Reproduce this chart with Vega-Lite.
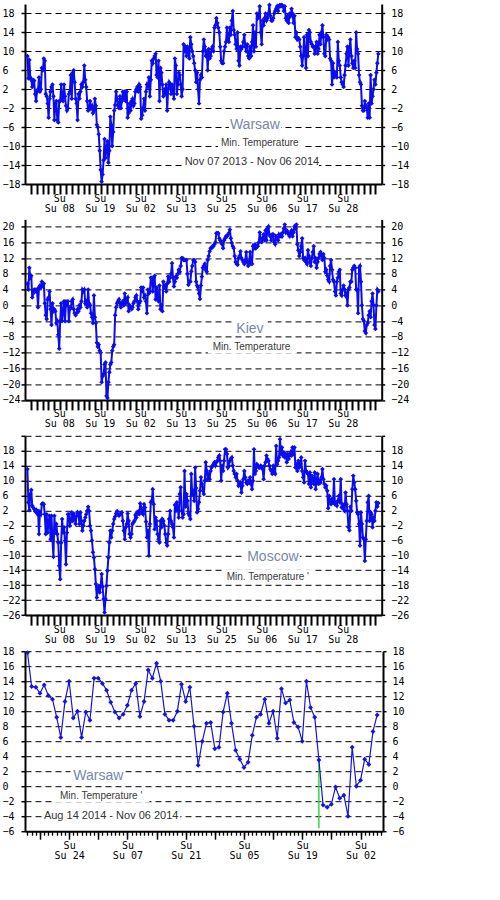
{
"$schema": "https://vega.github.io/schema/vega-lite/v6.json",
"background": "white",
"padding": {"left": 2, "top": 0, "right": 2, "bottom": 2},
"config": {
 "view": {"stroke": null},
 "axis": {"labelFont": "DejaVu Sans Mono", "labelFontSize": 10, "labelColor": "#000000", "domainColor": "#000000", "domainWidth": 2, "tickColor": "#000000", "labelOverlap": false, "labelFlush": false, "labelBound": false, "grid": false}
},
"datasets": {
"year": [
{"d":0,"wa":9,"ki":5.5,"mo":13.1},{"d":1,"wa":4.3,"ki":4,"mo":4.2},{"d":2,"wa":8.2,"ki":9.5,"mo":2.1},{"d":3,"wa":4.5,"ki":7,"mo":6.4},{"d":4,"wa":4,"ki":7.5,"mo":7.5},{"d":5,"wa":2.5,"ki":2,"mo":3.3},{"d":6,"wa":4,"ki":3,"mo":2.8},
{"d":7,"wa":3.8,"ki":4,"mo":2.4},{"d":8,"wa":1,"ki":4,"mo":1.8},{"d":9,"wa":-0.5,"ki":3.5,"mo":2.2},{"d":10,"wa":1.5,"ki":4,"mo":1.2},{"d":11,"wa":2,"ki":-0.5,"mo":1.9},{"d":12,"wa":4.5,"ki":4.5,"mo":-4.3},{"d":13,"wa":1.5,"ki":5,"mo":1.5},
{"d":14,"wa":2,"ki":4.5,"mo":1.0},{"d":15,"wa":6.5,"ki":6,"mo":3.7},{"d":16,"wa":6,"ki":5,"mo":3.9},{"d":17,"wa":8.5,"ki":5.5,"mo":3.7},{"d":18,"wa":8,"ki":0.5,"mo":1.0},{"d":19,"wa":1,"ki":-2.5,"mo":-4.3},{"d":20,"wa":0.5,"ki":-3.5,"mo":1.0},
{"d":21,"wa":-1,"ki":1.5,"mo":-3.9},{"d":22,"wa":-4,"ki":2,"mo":-1.0},{"d":23,"wa":0,"ki":3.5,"mo":0.6},{"d":24,"wa":1.5,"ki":-1,"mo":-5.7},{"d":25,"wa":2.5,"ki":-5,"mo":0.6},{"d":26,"wa":3,"ki":0.5,"mo":-6.1},{"d":27,"wa":0.5,"ki":-1.5,"mo":-10.4},
{"d":28,"wa":-4.5,"ki":-1,"mo":0.6},{"d":29,"wa":-1,"ki":-1.5,"mo":-3.9},{"d":30,"wa":-0.5,"ki":-4.5,"mo":-1.6},{"d":31,"wa":-4.5,"ki":-4,"mo":-4.3},{"d":32,"wa":-5,"ki":-7.5,"mo":-6.6},{"d":33,"wa":-0.5,"ki":-11,"mo":-12.8},{"d":34,"wa":-0.5,"ki":-4,"mo":-16.4},
{"d":35,"wa":3,"ki":0.5,"mo":-6.6},{"d":36,"wa":0,"ki":-4,"mo":-0.3},{"d":37,"wa":-0.5,"ki":-1.5,"mo":-3.9},{"d":38,"wa":3,"ki":1,"mo":-2.5},{"d":39,"wa":0.5,"ki":-4,"mo":-6.1},{"d":40,"wa":-1.5,"ki":1,"mo":-12.4},{"d":41,"wa":-2.5,"ki":0,"mo":-3.9},
{"d":42,"wa":-2,"ki":1,"mo":1.0},{"d":43,"wa":1,"ki":-4,"mo":1.0},{"d":44,"wa":1.5,"ki":-1,"mo":-2.1},{"d":45,"wa":5,"ki":-0.5,"mo":-0.8},{"d":46,"wa":0,"ki":1,"mo":1.5},{"d":47,"wa":5.5,"ki":1.5,"mo":-0.8},{"d":48,"wa":6,"ki":-1,"mo":1.2},
{"d":49,"wa":3.5,"ki":-2,"mo":0.1},{"d":50,"wa":0,"ki":-2.5,"mo":-1.6},{"d":51,"wa":-1,"ki":-2,"mo":0.6},{"d":52,"wa":-4.5,"ki":-1,"mo":1.5},{"d":53,"wa":1,"ki":-1.5,"mo":0.8},{"d":54,"wa":0,"ki":0,"mo":-1.6},{"d":55,"wa":1.5,"ki":-0.5,"mo":1.5},
{"d":56,"wa":3,"ki":1,"mo":-0.8},{"d":57,"wa":2.5,"ki":4,"mo":-3.4},{"d":58,"wa":3.5,"ki":3.5,"mo":-2.1},{"d":59,"wa":7,"ki":4,"mo":-0.8},{"d":60,"wa":4,"ki":0.5,"mo":0.1},{"d":61,"wa":2.5,"ki":1,"mo":1.0},{"d":62,"wa":-0.5,"ki":-0.5,"mo":1.9},
{"d":63,"wa":-2.5,"ki":4,"mo":3.0},{"d":64,"wa":-2,"ki":0.5,"mo":1.9},{"d":65,"wa":-0.5,"ki":0,"mo":-2.1},{"d":66,"wa":-2,"ki":-2,"mo":-3.4},{"d":67,"wa":-1.5,"ki":-3,"mo":-6.0},{"d":68,"wa":-3,"ki":-4.5,"mo":-9.2},{"d":69,"wa":-2.5,"ki":2.5,"mo":-10.6},
{"d":70,"wa":0,"ki":-3,"mo":-13.7},{"d":71,"wa":-1.5,"ki":-4.5,"mo":-17.7},{"d":72,"wa":-5.5,"ki":-9.5,"mo":-21.3},{"d":73,"wa":-6,"ki":-10.5,"mo":-19.1},{"d":74,"wa":-7.5,"ki":-10,"mo":-18.2},{"d":75,"wa":-11,"ki":-11.5,"mo":-19.9},{"d":76,"wa":-15,"ki":-12,"mo":-18.2},
{"d":77,"wa":-17.5,"ki":-19.5,"mo":-15.0},{"d":78,"wa":-16,"ki":-18,"mo":-18.4},{"d":79,"wa":-13,"ki":-17.5,"mo":-21.7},{"d":80,"wa":-8.5,"ki":-15,"mo":-25.3},{"d":81,"wa":-12.5,"ki":-14.5,"mo":-21.7},{"d":82,"wa":-10.5,"ki":-23,"mo":-18.2},{"d":83,"wa":-9,"ki":-23.5,"mo":-14.1},
{"d":84,"wa":-13.5,"ki":-19.5,"mo":-10.6},{"d":85,"wa":-11,"ki":-17,"mo":-6.6},{"d":86,"wa":-3.8,"ki":-15,"mo":-3.4},{"d":87,"wa":-5.5,"ki":-14.5,"mo":-5.2},{"d":88,"wa":-10,"ki":-11.5,"mo":-3.4},{"d":89,"wa":-7,"ki":-10.5,"mo":-1.6},{"d":90,"wa":-2.5,"ki":-10,"mo":-0.3},
{"d":91,"wa":-1.3,"ki":-2.5,"mo":0.4},{"d":92,"wa":1.5,"ki":-0.5,"mo":1.2},{"d":93,"wa":0,"ki":0.5,"mo":1.8},{"d":94,"wa":-1.5,"ki":1,"mo":1.0},{"d":95,"wa":-2,"ki":1.5,"mo":0.6},{"d":96,"wa":0.5,"ki":0.5,"mo":1.0},{"d":97,"wa":-2,"ki":-0.5,"mo":1.2},
{"d":98,"wa":-0.5,"ki":0.5,"mo":1.5},{"d":99,"wa":1.5,"ki":1,"mo":-0.8},{"d":100,"wa":0,"ki":0,"mo":-3.4},{"d":101,"wa":1.5,"ki":3,"mo":-5.7},{"d":102,"wa":-0.5,"ki":0.5,"mo":-2.5},{"d":103,"wa":1.5,"ki":1.5,"mo":-1.6},{"d":104,"wa":-4,"ki":2,"mo":1.2},
{"d":105,"wa":-3,"ki":-1.5,"mo":-0.8},{"d":106,"wa":-1,"ki":0,"mo":-4.3},{"d":107,"wa":-2.5,"ki":-0.5,"mo":-5.2},{"d":108,"wa":-0.5,"ki":-1,"mo":-4.3},{"d":109,"wa":0,"ki":-0.5,"mo":-1.6},{"d":110,"wa":-1.5,"ki":0.5,"mo":-1.2},{"d":111,"wa":-1,"ki":1,"mo":-0.8},
{"d":112,"wa":1.5,"ki":2,"mo":0.8},{"d":113,"wa":2,"ki":2.5,"mo":0.1},{"d":114,"wa":2.5,"ki":1,"mo":1.5},{"d":115,"wa":1.5,"ki":-1,"mo":1.8},{"d":116,"wa":3,"ki":0.5,"mo":1.0},{"d":117,"wa":2.5,"ki":1,"mo":3.9},{"d":118,"wa":-4.2,"ki":4.5,"mo":2.8},
{"d":119,"wa":-3.5,"ki":3.5,"mo":1.5},{"d":120,"wa":-2,"ki":4.5,"mo":1.0},{"d":121,"wa":0,"ki":2,"mo":3.7},{"d":122,"wa":-2.5,"ki":2.5,"mo":2.8},{"d":123,"wa":1.5,"ki":1,"mo":-1.0},{"d":124,"wa":3,"ki":-2,"mo":-5.2},{"d":125,"wa":2.5,"ki":4,"mo":-3.4},
{"d":126,"wa":4.5,"ki":3,"mo":-10.1},{"d":127,"wa":0.5,"ki":3.5,"mo":-1.6},{"d":128,"wa":4,"ki":7,"mo":4.2},{"d":129,"wa":8,"ki":7,"mo":4.6},{"d":130,"wa":7.5,"ki":3.5,"mo":7.7},{"d":131,"wa":8.5,"ki":7,"mo":3.7},{"d":132,"wa":9,"ki":7.5,"mo":-3.0},
{"d":133,"wa":9.5,"ki":1.5,"mo":0.1},{"d":134,"wa":5,"ki":4.5,"mo":-0.8},{"d":135,"wa":4.5,"ki":2,"mo":-4.3},{"d":136,"wa":8,"ki":1,"mo":-5.7},{"d":137,"wa":-0.5,"ki":5,"mo":-6.6},{"d":138,"wa":6.5,"ki":-1,"mo":-0.8},{"d":139,"wa":5.5,"ki":0,"mo":-2.5},
{"d":140,"wa":3,"ki":-1.5,"mo":-0.3},{"d":141,"wa":0.5,"ki":6,"mo":-0.8},{"d":142,"wa":2,"ki":4.5,"mo":-2.0},{"d":143,"wa":1,"ki":5,"mo":-4.3},{"d":144,"wa":3,"ki":3.5,"mo":-6.6},{"d":145,"wa":-2.5,"ki":5.5,"mo":-7.4},{"d":146,"wa":2,"ki":7.3,"mo":-4.3},
{"d":147,"wa":3.5,"ki":6,"mo":-0.3},{"d":148,"wa":3,"ki":7,"mo":1.9},{"d":149,"wa":1,"ki":8,"mo":-0.8},{"d":150,"wa":3,"ki":10.7,"mo":-1.6},{"d":151,"wa":1.5,"ki":7,"mo":-2.5},{"d":152,"wa":0,"ki":4.8,"mo":-5.2},{"d":153,"wa":8.5,"ki":6,"mo":3.5},
{"d":154,"wa":7,"ki":7.3,"mo":1.9},{"d":155,"wa":1,"ki":7,"mo":4.2},{"d":156,"wa":3,"ki":8,"mo":2.4},{"d":157,"wa":5.5,"ki":9,"mo":0.1},{"d":158,"wa":5,"ki":8.5,"mo":6.4},{"d":159,"wa":3,"ki":10,"mo":8.2},{"d":160,"wa":0.5,"ki":12,"mo":1.9},
{"d":161,"wa":2,"ki":12,"mo":0.1},{"d":162,"wa":11.5,"ki":11.5,"mo":1.0},{"d":163,"wa":10,"ki":11.5,"mo":12.6},{"d":164,"wa":11,"ki":11.5,"mo":3.0},{"d":165,"wa":9,"ki":11.5,"mo":6.4},{"d":166,"wa":11,"ki":8,"mo":4.6},{"d":167,"wa":10,"ki":5.2,"mo":1.2},
{"d":168,"wa":8.5,"ki":6,"mo":0.6},{"d":169,"wa":13,"ki":6,"mo":-0.3},{"d":170,"wa":11.5,"ki":8.6,"mo":11.8},{"d":171,"wa":10,"ki":10,"mo":6.2},{"d":172,"wa":9,"ki":11.5,"mo":7.3},{"d":173,"wa":7.5,"ki":11.5,"mo":4.6},{"d":174,"wa":6,"ki":11,"mo":13.5},
{"d":175,"wa":3.5,"ki":6,"mo":8.0},{"d":176,"wa":5.5,"ki":5,"mo":1.5},{"d":177,"wa":2,"ki":4.5,"mo":2.4},{"d":178,"wa":-1,"ki":3,"mo":4.2},{"d":179,"wa":4,"ki":1.6,"mo":7.3},{"d":180,"wa":5,"ki":5,"mo":10.9},{"d":181,"wa":4.5,"ki":7.3,"mo":9.1},
{"d":182,"wa":10,"ki":9.5,"mo":7.3},{"d":183,"wa":12.5,"ki":10,"mo":6.4},{"d":184,"wa":11,"ki":10.5,"mo":10.0},{"d":185,"wa":9,"ki":9,"mo":14.9},{"d":186,"wa":10,"ki":8.5,"mo":12.6},{"d":187,"wa":6,"ki":11.5,"mo":10.4},{"d":188,"wa":10.5,"ki":12.5,"mo":11.8},
{"d":189,"wa":8.5,"ki":13.7,"mo":10.4},{"d":190,"wa":9,"ki":14.5,"mo":12.6},{"d":191,"wa":10.5,"ki":14.5,"mo":13.5},{"d":192,"wa":11,"ki":15,"mo":14.0},{"d":193,"wa":10,"ki":15,"mo":14.4},{"d":194,"wa":15,"ki":15.5,"mo":14.9},{"d":195,"wa":15.5,"ki":16,"mo":14.0},
{"d":196,"wa":17,"ki":18.3,"mo":14.9},{"d":197,"wa":16,"ki":18.3,"mo":15.3},{"d":198,"wa":15,"ki":18.3,"mo":16.2},{"d":199,"wa":14,"ki":17,"mo":16.7},{"d":200,"wa":11,"ki":16.5,"mo":15.3},{"d":201,"wa":8,"ki":16,"mo":10.0},{"d":202,"wa":7.5,"ki":15.5,"mo":14.0},
{"d":203,"wa":7.5,"ki":14.5,"mo":12.6},{"d":204,"wa":10,"ki":16.5,"mo":15.3},{"d":205,"wa":11,"ki":17,"mo":18.4},{"d":206,"wa":12,"ki":17.5,"mo":18.4},{"d":207,"wa":15,"ki":17.5,"mo":17.1},{"d":208,"wa":12.5,"ki":18,"mo":13.5},{"d":209,"wa":12,"ki":18.3,"mo":14.0},
{"d":210,"wa":15,"ki":19.2,"mo":15.3},{"d":211,"wa":13.5,"ki":17,"mo":15.8},{"d":212,"wa":16.5,"ki":15.8,"mo":16.2},{"d":213,"wa":18.5,"ki":15,"mo":14.0},{"d":214,"wa":14.5,"ki":14.5,"mo":12.6},{"d":215,"wa":13.5,"ki":12.5,"mo":11.8},{"d":216,"wa":11.5,"ki":11,"mo":10.9},
{"d":217,"wa":10.5,"ki":10.5,"mo":11.8},{"d":218,"wa":14,"ki":10.3,"mo":10.0},{"d":219,"wa":8,"ki":12,"mo":8.6},{"d":220,"wa":7,"ki":12.5,"mo":9.0},{"d":221,"wa":11,"ki":13.7,"mo":9.5},{"d":222,"wa":10.5,"ki":12,"mo":6.8},{"d":223,"wa":11,"ki":11.5,"mo":8.6},
{"d":224,"wa":12,"ki":11,"mo":10.4},{"d":225,"wa":13.5,"ki":10.5,"mo":12.6},{"d":226,"wa":11,"ki":11.5,"mo":10.9},{"d":227,"wa":10,"ki":13.5,"mo":9.5},{"d":228,"wa":11.5,"ki":11,"mo":9.1},{"d":229,"wa":9,"ki":10,"mo":10.0},{"d":230,"wa":8.5,"ki":11,"mo":9.5},
{"d":231,"wa":11,"ki":13.5,"mo":10.9},{"d":232,"wa":9,"ki":10.5,"mo":9.1},{"d":233,"wa":12,"ki":10.5,"mo":7.7},{"d":234,"wa":15.5,"ki":15,"mo":10.0},{"d":235,"wa":10,"ki":14.5,"mo":18.4},{"d":236,"wa":14,"ki":15.5,"mo":11.8},{"d":237,"wa":11,"ki":14.5,"mo":12.6},
{"d":238,"wa":18,"ki":15,"mo":14.4},{"d":239,"wa":17,"ki":15,"mo":14.0},{"d":240,"wa":17.5,"ki":16,"mo":13.5},{"d":241,"wa":19.5,"ki":18.5,"mo":13.5},{"d":242,"wa":14,"ki":17,"mo":14.0},{"d":243,"wa":11.5,"ki":16,"mo":13.7},{"d":244,"wa":16.5,"ki":17,"mo":13.1},
{"d":245,"wa":15.5,"ki":18,"mo":10.4},{"d":246,"wa":17,"ki":16.5,"mo":14.0},{"d":247,"wa":18,"ki":19,"mo":14.9},{"d":248,"wa":16.5,"ki":16.5,"mo":16.7},{"d":249,"wa":17,"ki":19.5,"mo":15.8},{"d":250,"wa":18,"ki":20,"mo":15.3},{"d":251,"wa":19.8,"ki":18,"mo":14.0},
{"d":252,"wa":17.5,"ki":17.5,"mo":13.1},{"d":253,"wa":16.5,"ki":16.5,"mo":12.6},{"d":254,"wa":16.5,"ki":18,"mo":11.8},{"d":255,"wa":17,"ki":18,"mo":14.0},{"d":256,"wa":18,"ki":16,"mo":12.2},{"d":257,"wa":18.5,"ki":15.5,"mo":11.8},{"d":258,"wa":19,"ki":17.5,"mo":19.3},
{"d":259,"wa":19.5,"ki":17,"mo":14.4},{"d":260,"wa":18.5,"ki":16.5,"mo":15.3},{"d":261,"wa":19.5,"ki":18,"mo":16.2},{"d":262,"wa":19.8,"ki":17.5,"mo":21.1},{"d":263,"wa":19.5,"ki":18,"mo":17.1},{"d":264,"wa":19.8,"ki":17.5,"mo":18.9},{"d":265,"wa":19.5,"ki":18.5,"mo":16.7},
{"d":266,"wa":18.5,"ki":19.5,"mo":17.6},{"d":267,"wa":19.5,"ki":20.5,"mo":16.2},{"d":268,"wa":17,"ki":18.5,"mo":17.1},{"d":269,"wa":16.5,"ki":19,"mo":14.9},{"d":270,"wa":17.5,"ki":18.5,"mo":17.1},{"d":271,"wa":16,"ki":18,"mo":15.8},{"d":272,"wa":18,"ki":17.5,"mo":16.7},
{"d":273,"wa":17.5,"ki":18.5,"mo":17.6},{"d":274,"wa":19,"ki":19,"mo":16.7},{"d":275,"wa":18,"ki":17.5,"mo":18.9},{"d":276,"wa":16,"ki":18.5,"mo":17.1},{"d":277,"wa":17.5,"ki":20,"mo":18.9},{"d":278,"wa":13,"ki":19.5,"mo":13.5},{"d":279,"wa":14,"ki":20.5,"mo":14.4},
{"d":280,"wa":12.5,"ki":15.5,"mo":12.6},{"d":281,"wa":12.8,"ki":14,"mo":15.3},{"d":282,"wa":12.5,"ki":12.5,"mo":13.5},{"d":283,"wa":11,"ki":13.5,"mo":14.5},{"d":284,"wa":9,"ki":15,"mo":16.2},{"d":285,"wa":7,"ki":17,"mo":12.6},{"d":286,"wa":9,"ki":12,"mo":10.9},
{"d":287,"wa":13,"ki":11.5,"mo":9.5},{"d":288,"wa":9.5,"ki":12,"mo":15.3},{"d":289,"wa":6.5,"ki":11,"mo":12.6},{"d":290,"wa":13.5,"ki":10.5,"mo":12.2},{"d":291,"wa":9,"ki":14,"mo":11.8},{"d":292,"wa":14.5,"ki":12.5,"mo":9.1},{"d":293,"wa":14,"ki":11,"mo":12.2},
{"d":294,"wa":12,"ki":10,"mo":8.2},{"d":295,"wa":11.5,"ki":12,"mo":11.3},{"d":296,"wa":11,"ki":13.5,"mo":10.4},{"d":297,"wa":11,"ki":15,"mo":9.1},{"d":298,"wa":9.5,"ki":11,"mo":12.2},{"d":299,"wa":11,"ki":12,"mo":7.7},{"d":300,"wa":12,"ki":9.5,"mo":10.0},
{"d":301,"wa":9.5,"ki":11,"mo":11.8},{"d":302,"wa":10.5,"ki":12,"mo":9.1},{"d":303,"wa":13.5,"ki":13,"mo":10.0},{"d":304,"wa":11.5,"ki":13.5,"mo":9.5},{"d":305,"wa":14,"ki":12.5,"mo":10.9},{"d":306,"wa":15.5,"ki":11.5,"mo":13.1},{"d":307,"wa":13,"ki":13,"mo":10.4},
{"d":308,"wa":9.5,"ki":12,"mo":9.1},{"d":309,"wa":9,"ki":8.5,"mo":8.2},{"d":310,"wa":13.5,"ki":9,"mo":8.6},{"d":311,"wa":12.5,"ki":7.5,"mo":7.3},{"d":312,"wa":13,"ki":6.5,"mo":2.6},{"d":313,"wa":12.5,"ki":6,"mo":5.9},{"d":314,"wa":8.5,"ki":10,"mo":4.6},
{"d":315,"wa":8,"ki":11.5,"mo":3.7},{"d":316,"wa":3,"ki":9,"mo":5.1},{"d":317,"wa":7.5,"ki":6.5,"mo":4.2},{"d":318,"wa":4.5,"ki":6,"mo":10.4},{"d":319,"wa":5.5,"ki":3.5,"mo":3.7},{"d":320,"wa":5,"ki":2.5,"mo":4.0},{"d":321,"wa":4.5,"ki":6,"mo":3.3},
{"d":322,"wa":12,"ki":7,"mo":4.6},{"d":323,"wa":8,"ki":8.5,"mo":5.9},{"d":324,"wa":7,"ki":9,"mo":4.2},{"d":325,"wa":4.5,"ki":3,"mo":10.4},{"d":326,"wa":3.5,"ki":2.5,"mo":2.8},{"d":327,"wa":3,"ki":4,"mo":3.7},{"d":328,"wa":2.5,"ki":5,"mo":2.4},
{"d":329,"wa":5,"ki":4,"mo":1.9},{"d":330,"wa":7,"ki":2.5,"mo":6.8},{"d":331,"wa":9.5,"ki":3,"mo":3.7},{"d":332,"wa":11,"ki":0,"mo":1.9},{"d":333,"wa":7,"ki":4,"mo":-2.5},{"d":334,"wa":10.5,"ki":4.5,"mo":-3.3},{"d":335,"wa":12.5,"ki":6,"mo":3.0},
{"d":336,"wa":9,"ki":6,"mo":1.9},{"d":337,"wa":7.5,"ki":9,"mo":7.7},{"d":338,"wa":6.5,"ki":9.5,"mo":11.3},{"d":339,"wa":8,"ki":10,"mo":9.5},{"d":340,"wa":6.5,"ki":9.5,"mo":7.7},{"d":341,"wa":14,"ki":4,"mo":4.6},{"d":342,"wa":10.5,"ki":4,"mo":1.5},
{"d":343,"wa":9.5,"ki":-2,"mo":1.0},{"d":344,"wa":5,"ki":9.5,"mo":-1.6},{"d":345,"wa":3.5,"ki":10,"mo":-7.4},{"d":346,"wa":3,"ki":6,"mo":1.5},{"d":347,"wa":-1.5,"ki":0,"mo":-1.6},{"d":348,"wa":-2.5,"ki":-3.5,"mo":-5.2},{"d":349,"wa":-2.5,"ki":-4,"mo":-5.7},
{"d":350,"wa":-0.5,"ki":-6.5,"mo":-11.5},{"d":351,"wa":-1.5,"ki":-7,"mo":-5.7},{"d":352,"wa":-2,"ki":-5,"mo":-0.8},{"d":353,"wa":-4,"ki":-4.5,"mo":4.2},{"d":354,"wa":-1,"ki":-2.5,"mo":5.9},{"d":355,"wa":-4,"ki":-1.5,"mo":-0.8},{"d":356,"wa":5,"ki":-3,"mo":1.5},
{"d":357,"wa":-1,"ki":1,"mo":1.0},{"d":358,"wa":0.5,"ki":3,"mo":-2.5},{"d":359,"wa":2,"ki":0,"mo":0.1},{"d":360,"wa":4,"ki":-5,"mo":-0.8},{"d":361,"wa":3,"ki":-6,"mo":1.9},{"d":362,"wa":5.5,"ki":0,"mo":4.2},{"d":363,"wa":7.5,"ki":4,"mo":3.0},
{"d":364,"wa":9.5,"ki":3.5,"mo":4.0}
],
"recent": [
{"d":0,"t":17.8},{"d":1,"t":13.3},{"d":2,"t":13.2},{"d":3,"t":12.4},{"d":4,"t":13.5},{"d":5,"t":12.1},{"d":6,"t":11.6},{"d":7,"t":9.2},{"d":8,"t":6.5},{"d":9,"t":11.3},
{"d":10,"t":14.0},{"d":11,"t":9.1},{"d":12,"t":10.0},{"d":13,"t":6.5},{"d":14,"t":9.9},{"d":15,"t":8.8},{"d":16,"t":14.4},{"d":17,"t":14.4},{"d":18,"t":13.7},{"d":19,"t":12.8},
{"d":20,"t":11.2},{"d":21,"t":9.9},{"d":22,"t":9.1},{"d":23,"t":9.6},{"d":24,"t":10.8},{"d":25,"t":12.8},{"d":26,"t":13.7},{"d":27,"t":9.3},{"d":28,"t":11.3},{"d":29,"t":15.5},
{"d":30,"t":14.4},{"d":31,"t":16.4},{"d":32,"t":14.0},{"d":33,"t":9.6},{"d":34,"t":8.8},{"d":35,"t":8.8},{"d":36,"t":10.0},{"d":37,"t":13.6},{"d":38,"t":11.3},{"d":39,"t":13.2},
{"d":40,"t":8.0},{"d":41,"t":2.8},{"d":42,"t":6.0},{"d":43,"t":8.4},{"d":44,"t":8.5},{"d":45,"t":5.0},{"d":46,"t":5.2},{"d":47,"t":9.9},{"d":48,"t":12.4},{"d":49,"t":8.4},
{"d":50,"t":4.8},{"d":51,"t":3.6},{"d":52,"t":2.5},{"d":53,"t":3.2},{"d":54,"t":6.8},{"d":55,"t":9.2},{"d":56,"t":9.6},{"d":57,"t":11.6},{"d":58,"t":8.4},{"d":59,"t":10.0},
{"d":60,"t":6.4},{"d":61,"t":13.0},{"d":62,"t":11.1},{"d":63,"t":11.5},{"d":64,"t":8.5},{"d":65,"t":7.9},{"d":66,"t":6.0},{"d":67,"t":14.0},{"d":68,"t":10.5},{"d":69,"t":9.2},
{"d":70,"t":3.5},{"d":71,"t":-2.5},{"d":72,"t":-2.8},{"d":73,"t":-2.4},{"d":74,"t":-0.1},{"d":75,"t":-1.6},{"d":76,"t":-1.2},{"d":77,"t":-4.0},{"d":78,"t":5.2},{"d":79,"t":0.0},
{"d":80,"t":0.8},{"d":81,"t":3.6},{"d":82,"t":2.9},{"d":83,"t":7.3},{"d":84,"t":9.5}
],
"cut": [{"d":70,"hi":3.5,"lo":-5.6}]
},
"bounds": "flush",
"spacing": 35.4,
"vconcat": [
{
 "width": 356.7, "height": 180,
 "resolve": {"axis": {"x": "independent", "y": "independent"}},
 "layer": [
  {"data": {"values": [{}]}, "mark": {"type": "rect", "color": "white"}, "encoding": {"x": {"datum": 209, "type": "quantitative", "axis": null}, "x2": {"datum": 263}, "y": {"datum": -4.0, "type": "quantitative", "axis": null}, "y2": {"datum": -7.2}}},
  {"data": {"values": [{}]}, "mark": {"type": "rect", "color": "white"}, "encoding": {"x": {"datum": 197.6, "type": "quantitative", "axis": null}, "x2": {"datum": 285.7}, "y": {"datum": -8.2, "type": "quantitative", "axis": null}, "y2": {"datum": -10.8}}},
  {"data": {"values": [{}]}, "mark": {"type": "rect", "color": "white"}, "encoding": {"x": {"datum": 163.4, "type": "quantitative", "axis": null}, "x2": {"datum": 302.3}, "y": {"datum": -12.0, "type": "quantitative", "axis": null}, "y2": {"datum": -14.8}}},
  {"data": {"name": "year"},
   "mark": {"type": "line", "color": "#0c0cf0", "strokeWidth": 2, "point": {"filled": true, "shape": "diamond", "size": 22, "color": "#0c0cf0"}},
   "encoding": {
    "x": {"field": "d", "type": "quantitative", "scale": {"domain": [-2.5, 367.5], "nice": false, "zero": false},
          "axis": {"title": null, "orient": "bottom", "labels": false, "grid": false, "tickSize": 10, "tickWidth": 2, "values": [3.7,9.76,15.81,21.87,27.93,33.99,40.04,46.1,52.16,58.21,64.27,70.33,76.38,82.44,88.5,94.56,100.61,106.67,112.73,118.78,124.84,130.9,136.95,143.01,149.07,155.13,161.18,167.24,173.3,179.35,185.41,191.47,197.52,203.58,209.64,215.7,221.75,227.81,233.87,239.92,245.98,252.04,258.09,264.15,270.21,276.27,282.32,288.38,294.44,300.49,306.55,312.61,318.66,324.72,330.78,336.84,342.89,348.95,355.01,361.06]}},
    "y": {"field": "wa", "type": "quantitative", "scale": {"domain": [-18, 20], "nice": false, "zero": false},
          "axis": {"title": null, "orient": "left", "values": [-18,-14,-10,-6,-2,2,6,10,14,18], "grid": true, "gridColor": "#000000", "gridDash": [6,4], "gridWidth": 1, "tickSize": 4, "tickWidth": 1.5, "labelAlign": "left", "labelPadding": 19, "labelExpr": "length(datum.label) < 2 ? '\u00a0' + datum.label : datum.label"}}
   }},
  {"data": {"values": [{}]},
   "mark": {"type": "text", "font": "Liberation Sans", "fontSize": 14, "color": "#7888a8", "align": "center", "baseline": "middle"},
   "encoding": {
    "x": {"datum": 236, "type": "quantitative", "axis": {"title": null, "orient": "bottom", "domain": false, "ticks": false, "grid": false, "values": [31,73,115,157,199,241,283,325], "labelPadding": 9, "labelOffset": 2, "labelLineHeight": 10, "labelBaseline": "top", "labelExpr": "['\u00a0Su', 'Su ' + timeFormat(datetime(2013, 10, 7 + datum.value), '%d')]"}},
    "y": {"datum": -5.5, "type": "quantitative", "axis": {"title": null, "orient": "right", "grid": false, "values": [-18,-14,-10,-6,-2,2,6,10,14,18], "tickSize": 3, "tickWidth": 1.5, "labelAlign": "left", "labelPadding": 6, "labelExpr": "length(datum.label) < 2 ? '\u00a0' + datum.label : datum.label"}},
    "text": {"value": "Warsaw"}
   }},
  {"data": {"values": [{}]},
   "mark": {"type": "text", "font": "Liberation Sans", "fontSize": 10, "color": "#3a3a3a", "align": "center", "baseline": "middle"},
   "encoding": {"x": {"datum": 241.1, "type": "quantitative", "axis": null}, "y": {"datum": -9.4, "type": "quantitative", "axis": null}, "text": {"value": "Min. Temperature"}}},
  {"data": {"values": [{}]},
   "mark": {"type": "text", "font": "Liberation Sans", "fontSize": 11, "color": "#333333", "align": "center", "baseline": "middle"},
   "encoding": {"x": {"datum": 232.9, "type": "quantitative", "axis": null}, "y": {"datum": -13.4, "type": "quantitative", "axis": null}, "text": {"value": "Nov 07 2013 - Nov 06 2014"}}}
 ]
},
{
 "width": 356.7, "height": 180.5,
 "resolve": {"axis": {"x": "independent", "y": "independent"}},
 "layer": [
  {"data": {"values": [{}]}, "mark": {"type": "rect", "color": "white"}, "encoding": {"x": {"datum": 212.1, "type": "quantitative", "axis": null}, "x2": {"datum": 249.4}, "y": {"datum": -3.3, "type": "quantitative", "axis": null}, "y2": {"datum": -7.6}}},
  {"data": {"values": [{}]}, "mark": {"type": "rect", "color": "white"}, "encoding": {"x": {"datum": 187.2, "type": "quantitative", "axis": null}, "x2": {"datum": 279.5}, "y": {"datum": -9.2, "type": "quantitative", "axis": null}, "y2": {"datum": -12.2}}},
  {"data": {"name": "year"},
   "mark": {"type": "line", "color": "#0c0cf0", "strokeWidth": 2, "point": {"filled": true, "shape": "diamond", "size": 22, "color": "#0c0cf0"}},
   "encoding": {
    "x": {"field": "d", "type": "quantitative", "scale": {"domain": [-2.5, 367.5], "nice": false, "zero": false},
          "axis": {"title": null, "orient": "bottom", "labels": false, "grid": false, "tickSize": 10, "tickWidth": 2, "values": [3.7,9.76,15.81,21.87,27.93,33.99,40.04,46.1,52.16,58.21,64.27,70.33,76.38,82.44,88.5,94.56,100.61,106.67,112.73,118.78,124.84,130.9,136.95,143.01,149.07,155.13,161.18,167.24,173.3,179.35,185.41,191.47,197.52,203.58,209.64,215.7,221.75,227.81,233.87,239.92,245.98,252.04,258.09,264.15,270.21,276.27,282.32,288.38,294.44,300.49,306.55,312.61,318.66,324.72,330.78,336.84,342.89,348.95,355.01,361.06]}},
    "y": {"field": "ki", "type": "quantitative", "scale": {"domain": [-24, 21.8], "nice": false, "zero": false},
          "axis": {"title": null, "orient": "left", "values": [-24,-20,-16,-12,-8,-4,0,4,8,12,16,20], "grid": true, "gridColor": "#000000", "gridDash": [6,4], "gridWidth": 1, "tickSize": 4, "tickWidth": 1.5, "labelAlign": "left", "labelPadding": 19, "labelExpr": "length(datum.label) < 2 ? '\u00a0' + datum.label : datum.label"}}
   }},
  {"data": {"values": [{}]},
   "mark": {"type": "text", "font": "Liberation Sans", "fontSize": 14, "color": "#7888a8", "align": "center", "baseline": "middle"},
   "encoding": {
    "x": {"datum": 230.8, "type": "quantitative", "axis": {"title": null, "orient": "bottom", "domain": false, "ticks": false, "grid": false, "values": [31,73,115,157,199,241,283,325], "labelPadding": 9, "labelOffset": 2, "labelLineHeight": 10, "labelBaseline": "top", "labelExpr": "['\u00a0Su', 'Su ' + timeFormat(datetime(2013, 10, 7 + datum.value), '%d')]"}},
    "y": {"datum": -5.9, "type": "quantitative", "axis": {"title": null, "orient": "right", "grid": false, "values": [-24,-20,-16,-12,-8,-4,0,4,8,12,16,20], "tickSize": 3, "tickWidth": 1.5, "labelAlign": "left", "labelPadding": 6, "labelExpr": "length(datum.label) < 2 ? '\u00a0' + datum.label : datum.label"}},
    "text": {"value": "Kiev"}
   }},
  {"data": {"values": [{}]},
   "mark": {"type": "text", "font": "Liberation Sans", "fontSize": 10, "color": "#3a3a3a", "align": "center", "baseline": "middle"},
   "encoding": {"x": {"datum": 232.5, "type": "quantitative", "axis": null}, "y": {"datum": -10.7, "type": "quantitative", "axis": null}, "text": {"value": "Min. Temperature"}}}
 ]
},
{
 "width": 356.7, "height": 179.3,
 "resolve": {"axis": {"x": "independent", "y": "independent"}},
 "layer": [
  {"data": {"values": [{}]}, "mark": {"type": "rect", "color": "white"}, "encoding": {"x": {"datum": 225.6, "type": "quantitative", "axis": null}, "x2": {"datum": 282.6}, "y": {"datum": -8.3, "type": "quantitative", "axis": null}, "y2": {"datum": -12.5}}},
  {"data": {"values": [{}]}, "mark": {"type": "rect", "color": "white"}, "encoding": {"x": {"datum": 204.9, "type": "quantitative", "axis": null}, "x2": {"datum": 296.1}, "y": {"datum": -13.8, "type": "quantitative", "axis": null}, "y2": {"datum": -17.7}}},
  {"data": {"name": "year"},
   "mark": {"type": "line", "color": "#0c0cf0", "strokeWidth": 2, "point": {"filled": true, "shape": "diamond", "size": 22, "color": "#0c0cf0"}},
   "encoding": {
    "x": {"field": "d", "type": "quantitative", "scale": {"domain": [-2.5, 367.5], "nice": false, "zero": false},
          "axis": {"title": null, "orient": "bottom", "labels": false, "grid": false, "tickSize": 10, "tickWidth": 2, "values": [3.7,9.76,15.81,21.87,27.93,33.99,40.04,46.1,52.16,58.21,64.27,70.33,76.38,82.44,88.5,94.56,100.61,106.67,112.73,118.78,124.84,130.9,136.95,143.01,149.07,155.13,161.18,167.24,173.3,179.35,185.41,191.47,197.52,203.58,209.64,215.7,221.75,227.81,233.87,239.92,245.98,252.04,258.09,264.15,270.21,276.27,282.32,288.38,294.44,300.49,306.55,312.61,318.66,324.72,330.78,336.84,342.89,348.95,355.01,361.06]}},
    "y": {"field": "mo", "type": "quantitative", "scale": {"domain": [-26, 22], "nice": false, "zero": false},
          "axis": {"title": null, "orient": "left", "values": [-26,-22,-18,-14,-10,-6,-2,2,6,10,14,18,22], "grid": true, "gridColor": "#000000", "gridDash": [6,4], "gridWidth": 1, "tickSize": 4, "tickWidth": 1.5, "labelAlign": "left", "labelPadding": 19, "labelExpr": "datum.value == 22 ? '' : (length(datum.label) < 2 ? '\u00a0' + datum.label : datum.label)"}}
   }},
  {"data": {"values": [{}]},
   "mark": {"type": "text", "font": "Liberation Sans", "fontSize": 14, "color": "#7888a8", "align": "center", "baseline": "middle"},
   "encoding": {
    "x": {"datum": 254.6, "type": "quantitative", "axis": {"title": null, "orient": "bottom", "domain": false, "ticks": false, "grid": false, "values": [31,73,115,157,199,241,283,325], "labelPadding": 9, "labelOffset": 2, "labelLineHeight": 10, "labelBaseline": "top", "labelExpr": "['\u00a0Su', 'Su ' + timeFormat(datetime(2013, 10, 7 + datum.value), '%d')]"}},
    "y": {"datum": -10.5, "type": "quantitative", "axis": {"title": null, "orient": "right", "grid": false, "values": [-26,-22,-18,-14,-10,-6,-2,2,6,10,14,18,22], "tickSize": 3, "tickWidth": 1.5, "labelAlign": "left", "labelPadding": 6, "labelExpr": "datum.value == 22 ? '' : (length(datum.label) < 2 ? '\u00a0' + datum.label : datum.label)"}},
    "text": {"value": "Moscow"}
   }},
  {"data": {"values": [{}]},
   "mark": {"type": "text", "font": "Liberation Sans", "fontSize": 10, "color": "#3a3a3a", "align": "center", "baseline": "middle"},
   "encoding": {"x": {"datum": 249.4, "type": "quantitative", "axis": null}, "y": {"datum": -15.9, "type": "quantitative", "axis": null}, "text": {"value": "Min. Temperature '"}}}
 ]
},
{
 "width": 358, "height": 180,
 "resolve": {"axis": {"x": "independent", "y": "independent"}},
 "layer": [
  {"data": {"values": [{}]}, "mark": {"type": "rect", "color": "white"}, "encoding": {"x": {"datum": 10.3, "type": "quantitative", "axis": null}, "x2": {"datum": 23.5}, "y": {"datum": 2.4, "type": "quantitative", "axis": null}, "y2": {"datum": 0.3}}},
  {"data": {"values": [{}]}, "mark": {"type": "rect", "color": "white"}, "encoding": {"x": {"datum": 6.4, "type": "quantitative", "axis": null}, "x2": {"datum": 29.3}, "y": {"datum": -0.6, "type": "quantitative", "axis": null}, "y2": {"datum": -2.1}}},
  {"data": {"values": [{}]}, "mark": {"type": "rect", "color": "white"}, "encoding": {"x": {"datum": 3.6, "type": "quantitative", "axis": null}, "x2": {"datum": 36.7}, "y": {"datum": -3.2, "type": "quantitative", "axis": null}, "y2": {"datum": -4.8}}},
  {"data": {"name": "cut"}, "mark": {"type": "rule", "color": "#33dd33", "strokeWidth": 1.5},
   "encoding": {"x": {"field": "d", "type": "quantitative", "axis": null}, "y": {"field": "hi", "type": "quantitative", "axis": null}, "y2": {"field": "lo"}}},
  {"data": {"name": "recent"},
   "mark": {"type": "line", "color": "#1414e0", "strokeWidth": 1.2, "point": {"filled": true, "shape": "diamond", "size": 24, "color": "#1414e0"}},
   "encoding": {
    "x": {"field": "d", "type": "quantitative", "scale": {"domain": [-0.6, 85.4], "nice": false, "zero": false},
          "axis": {"title": null, "orient": "bottom", "labels": false, "grid": false, "tickSize": 4, "tickWidth": 1.3, "values": [0,1,2,3,4,5,6,7,8,9,10,11,12,13,14,15,16,17,18,19,20,21,22,23,24,25,26,27,28,29,30,31,32,33,34,35,36,37,38,39,40,41,42,43,44,45,46,47,48,49,50,51,52,53,54,55,56,57,58,59,60,61,62,63,64,65,66,67,68,69,70,71,72,73,74,75,76,77,78,79,80,81,82,83,84,85]}},
    "y": {"field": "t", "type": "quantitative", "scale": {"domain": [-6, 18], "nice": false, "zero": false},
          "axis": {"title": null, "orient": "left", "values": [-6,-4,-2,0,2,4,6,8,10,12,14,16,18], "grid": true, "gridColor": "#000000", "gridDash": [6,4], "gridWidth": 1, "tickSize": 4, "tickWidth": 1.5, "labelAlign": "left", "labelPadding": 19, "labelExpr": "length(datum.label) < 2 ? '\u00a0' + datum.label : datum.label"}}
   }},
  {"data": {"values": [{}]},
   "mark": {"type": "text", "font": "Liberation Sans", "fontSize": 14, "color": "#7888a8", "align": "center", "baseline": "middle"},
   "encoding": {
    "x": {"datum": 17.0, "type": "quantitative", "axis": {"title": null, "orient": "bottom", "domain": false, "grid": false, "tickSize": 8, "tickWidth": 1.5, "values": [3,10,17,24,31,38,45,52,59,66,73,80], "labelPadding": 1, "labelLineHeight": 10, "labelBaseline": "top", "labelExpr": "(datum.value - 10) % 14 == 0 ? ['Su', 'Su ' + timeFormat(datetime(2014, 7, 14 + datum.value), '%d')] : ''"}},
    "y": {"datum": 1.33, "type": "quantitative", "axis": {"title": null, "orient": "right", "grid": false, "values": [-6,-4,-2,0,2,4,6,8,10,12,14,16,18], "tickSize": 3, "tickWidth": 1.5, "labelAlign": "left", "labelPadding": 6, "labelExpr": "length(datum.label) < 2 ? '\u00a0' + datum.label : datum.label"}},
    "text": {"value": "Warsaw"}
   }},
  {"data": {"values": [{}]},
   "mark": {"type": "text", "font": "Liberation Sans", "fontSize": 10, "color": "#3a3a3a", "align": "center", "baseline": "middle"},
   "encoding": {"x": {"datum": 17.7, "type": "quantitative", "axis": null}, "y": {"datum": -1.33, "type": "quantitative", "axis": null}, "text": {"value": "Min. Temperature '"}}},
  {"data": {"values": [{}]},
   "mark": {"type": "text", "font": "Liberation Sans", "fontSize": 11, "color": "#333333", "align": "center", "baseline": "middle"},
   "encoding": {"x": {"datum": 20.1, "type": "quantitative", "axis": null}, "y": {"datum": -4.0, "type": "quantitative", "axis": null}, "text": {"value": "Aug 14 2014 - Nov 06 2014"}}}
 ]
}
]
}
